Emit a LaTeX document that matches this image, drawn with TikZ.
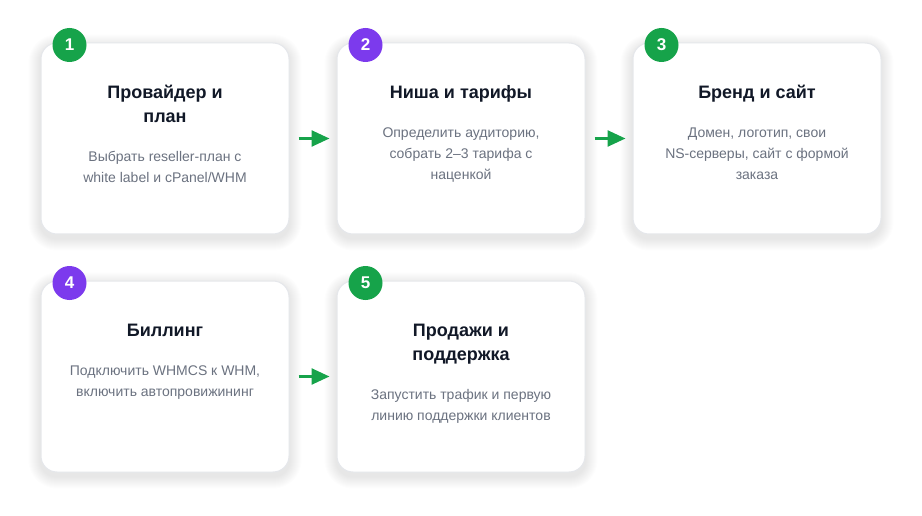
\documentclass[tikz,border=0pt]{standalone}
\usepackage{fontspec}
\setmainfont{Liberation Sans}
\usetikzlibrary{arrows.meta,calc,backgrounds}
\definecolor{stepgreen}{HTML}{16A34A}
\definecolor{steppurple}{HTML}{7C3AED}
\definecolor{titlecol}{HTML}{111827}
\definecolor{desccol}{HTML}{6B7280}
\definecolor{cardborder}{HTML}{E5E7EB}
\definecolor{shadowcol}{HTML}{1E1E3C}
\tikzset{
  card/.style={draw=cardborder, line width=1pt, fill=white, rounded corners=16pt,
    minimum width=248pt, minimum height=191pt, inner sep=0pt},
  titletext/.style={anchor=north, inner sep=0pt, align=center, text=titlecol,
    font=\fontsize{18}{24}\selectfont\bfseries},
  desctext/.style={anchor=north, inner sep=0pt, align=center, text=desccol,
    font=\fontsize{14}{21}\selectfont},
  badge/.style={circle, minimum size=34pt, inner sep=0pt, text=white,
    font=\fontsize{17}{17}\selectfont\bfseries},
  flow/.style={draw=stepgreen, line width=2.5pt, -{Triangle[length=18pt,width=16pt]},
    shorten <=9pt, shorten >=7pt},
  softshade/.style={fill=shadowcol, opacity=0.007}
}
\begin{document}
\begin{tikzpicture}[x=1pt,y=-1pt]
\useasboundingbox (0,0) rectangle (922,516);
% cards
\node[card] (c1) at (165,138.5) {};
\node[card] (c2) at (461,138.5) {};
\node[card] (c3) at (757,138.5) {};
\node[card] (c4) at (165,376.5) {};
\node[card] (c5) at (461,376.5) {};
\begin{scope}[on background layer]
\fill[white] (0,0) rectangle (922,516);
\foreach \c in {c1,c2,c3,c4,c5}{
  \foreach \i in {1,...,12}{
    \pgfmathsetmacro\rr{16+\i}
    \fill[softshade, rounded corners=\rr pt]
      ($(\c.south west)+(-\i,\i+4)$) rectangle ($(\c.north east)+(\i,-\i+4)$);
  }
}
\end{scope}
% badges
\node[badge, fill=stepgreen] (b1) at ($(c1.north west)+(29,2.5)$) {1};
\node[badge, fill=steppurple] (b2) at ($(c2.north west)+(29,2.5)$) {2};
\node[badge, fill=stepgreen] (b3) at ($(c3.north west)+(29,2.5)$) {3};
\node[badge, fill=steppurple] (b4) at ($(c4.north west)+(29,2.5)$) {4};
\node[badge, fill=stepgreen] (b5) at ($(c5.north west)+(29,2.5)$) {5};
% titles
\node[titletext] (t1) at ($(c1.north)+(0,39.2)$) {\strut Провайдер и\\\strut план};
\node[titletext] (t2) at ($(c2.north)+(0,39.2)$) {\strut Ниша и тарифы};
\node[titletext] (t3) at ($(c3.north)+(0,39.2)$) {\strut Бренд и сайт};
\node[titletext] (t4) at ($(c4.north)+(0,39.2)$) {\strut Биллинг};
\node[titletext] (t5) at ($(c5.north)+(0,39.2)$) {\strut Продажи и\\\strut поддержка};
% descriptions
\node[desctext] (d1) at ($(t1.south)+(0,16.1)$) {\strut Выбрать reseller-план с\\\strut white label и cPanel/WHM};
\node[desctext] (d2) at ($(t2.south)+(0,16.1)$) {\strut Определить аудиторию,\\\strut собрать 2–3 тарифа с\\\strut наценкой};
\node[desctext] (d3) at ($(t3.south)+(0,16.1)$) {\strut Домен, логотип, свои\\\strut NS-серверы, сайт с формой\\\strut заказа};
\node[desctext] (d4) at ($(t4.south)+(0,16.1)$) {\strut Подключить WHMCS к WHM,\\\strut включить автопровижининг};
\node[desctext] (d5) at ($(t5.south)+(0,16.1)$) {\strut Запустить трафик и первую\\\strut линию поддержки клиентов};
% connectors
\draw[flow] (c1.east) -- (c2.west);
\draw[flow] (c2.east) -- (c3.west);
\draw[flow] (c4.east) -- (c5.west);
\end{tikzpicture}
\end{document}
